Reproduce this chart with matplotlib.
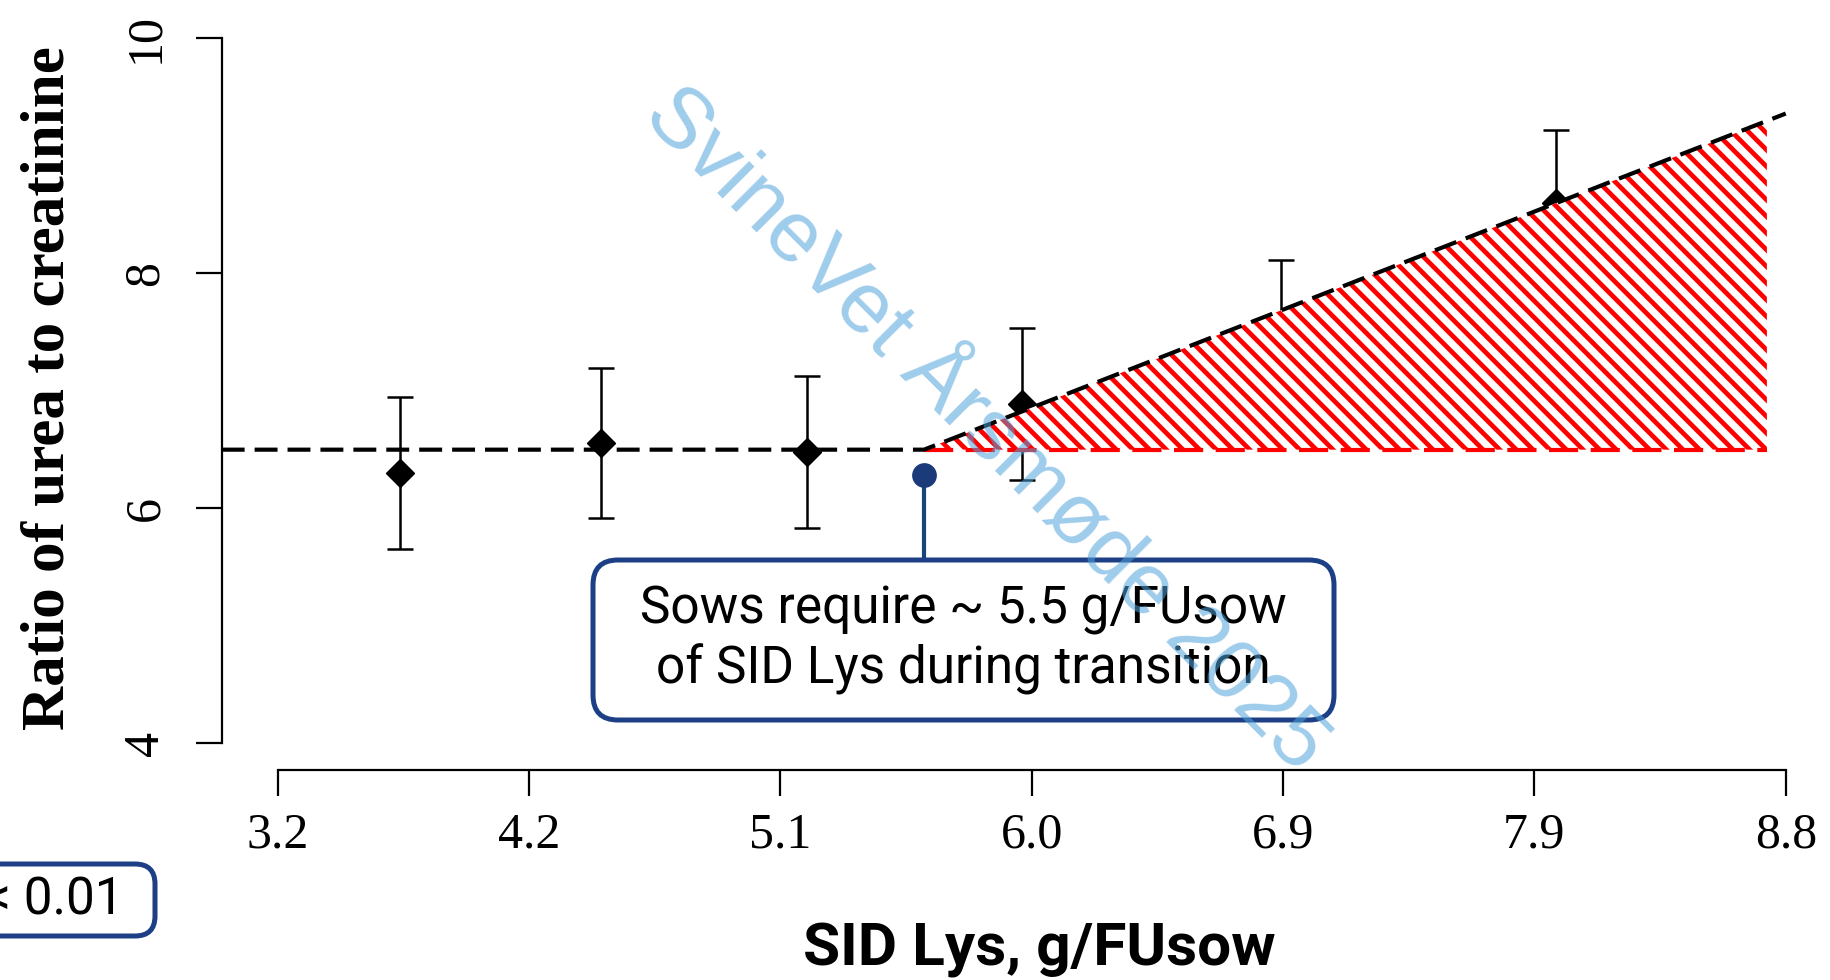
import matplotlib
matplotlib.use("Agg")
import matplotlib.pyplot as plt
import numpy as np
from matplotlib.patches import FancyBboxPatch, Polygon

# ---------------- data ----------------
lys_level = [3.655, 4.40, 5.167, 5.963, 6.925, 7.946]
ratio_mean = [6.30, 6.557, 6.48, 6.89, 7.485, 8.60]
ratio_se = [0.645, 0.64, 0.645, 0.648, 0.63, 0.62]

x_tick_labels = ["3.2", "4.2", "5.1", "6.0", "6.9", "7.9", "8.8"]
y_ticks = [4, 6, 8, 10]

breakpoint_x = 5.6       # broken-line breakpoint (g/FUsow)
plateau_y = 6.5          # plateau of the broken line
slope_after = 0.894      # slope after breakpoint
line_end_x = 8.8
hatch_end_x = 8.73
requirement_dot_y = 6.285

box_text = "Sows require ~ 5.5 g/FUsow\nof SID Lys during transition"
p_text = "< 0.01"
watermark = "SvineVet Årsmøde 2025"

# ---------------- figure ----------------
plt.rcParams["hatch.linewidth"] = 3.4
W, H = 1830, 980
fig = plt.figure(figsize=(W / 100, H / 100), dpi=100)
ax_l, ax_r, ax_t, ax_b = 221.7, 1800, 20, 770
ax = fig.add_axes([ax_l / W, 1 - ax_b / H, (ax_r - ax_l) / W, (ax_b - ax_t) / H])
ax.set_xlim(2.9917, 8.853)
ax.set_ylim(3.7736, 10.157)

for s in ["top", "right"]:
    ax.spines[s].set_visible(False)
ax.spines["left"].set_bounds(4, 10)
ax.spines["bottom"].set_bounds(3.2, 8.8)
for s in ["left", "bottom"]:
    ax.spines[s].set_linewidth(1.6)

xt = np.linspace(3.2, 8.8, len(x_tick_labels))
ax.set_xticks(xt)
ax.set_xticklabels(x_tick_labels, fontsize=36, family="Liberation Serif")
ax.set_yticks(y_ticks)
ax.set_yticklabels([str(v) for v in y_ticks], fontsize=36, family="Liberation Serif",
                   rotation=90, va="center")
ax.tick_params(axis="x", length=18.5, width=1.6, pad=12)
ax.tick_params(axis="y", length=19, width=1.6, pad=19)

ax.set_ylabel("Ratio of urea to creatinine", fontsize=44, fontweight="bold",
              family="Liberation Serif")
ax.yaxis.set_label_coords(-0.1005, 0.509)
ax.yaxis.label.set_va("baseline")
ax.set_xlabel("SID Lys, g/FUsow", fontsize=43.5, fontweight="bold", family="Roboto")
ax.xaxis.set_label_coords(0.5178, -0.26)
ax.xaxis.label.set_va("baseline")

# error bars with diamonds
ax.errorbar(lys_level, ratio_mean, yerr=ratio_se, fmt="D", color="black", ms=14,
            elinewidth=1.8, capsize=9.4, capthick=1.8, zorder=2)

# hatched area above plateau
hatch_top = plateau_y + slope_after * (hatch_end_x - breakpoint_x)
poly = Polygon([[breakpoint_x, plateau_y], [hatch_end_x, hatch_top], [hatch_end_x, plateau_y]],
               closed=True, facecolor="white", edgecolor="red", hatch="\\\\", lw=0, zorder=3)
ax.add_patch(poly)
ax.plot([breakpoint_x, hatch_end_x], [plateau_y, plateau_y], color="red", lw=3,
        dashes=(7, 3), zorder=3.5)

# broken line
x0 = ax.get_xlim()[0]
bl_x = [x0, breakpoint_x, line_end_x]
bl_y = [plateau_y, plateau_y, plateau_y + slope_after * (line_end_x - breakpoint_x)]
ax.plot(bl_x, bl_y, color="black", lw=3, dashes=(5.5, 2.4), zorder=4)

# requirement marker and connector
box_top_y = 5.56
ax.plot([breakpoint_x, breakpoint_x], [requirement_dot_y, box_top_y], color="#174679",
        lw=3, zorder=5, solid_capstyle="butt", clip_on=False)
ax.plot([breakpoint_x], [requirement_dot_y], "o", ms=16.8, color="#1a3a7a", zorder=6)

# annotation box
box = FancyBboxPatch((5.93, 2.60), 7.41, 1.60, boxstyle="round,pad=0,rounding_size=0.25",
                     transform=fig.dpi_scale_trans, fc="white", ec="#1d3f85", lw=3.6, zorder=2)
fig.add_artist(box)
fig.text(9.635 / 18.3, 3.40 / 9.8, box_text, ha="center", va="center", fontsize=37,
         family="Roboto", linespacing=1.2, zorder=3)

# partial p-value box
pbox = FancyBboxPatch((-0.4, 0.44), 1.95, 0.72, boxstyle="round,pad=0,rounding_size=0.2",
                      transform=fig.dpi_scale_trans, fc="white", ec="#1d3f85", lw=3.6, zorder=2)
fig.add_artist(pbox)
fig.text(1.24 / 18.3, 0.80 / 9.8, p_text, ha="right", va="center", fontsize=37,
         family="Roboto", zorder=3)

# watermark
fig.text(985 / W, 1 - 430 / H, watermark, rotation=-45, ha="center", va="center",
         rotation_mode="anchor", fontsize=62, color="#4fa3dc", alpha=0.55,
         family="Liberation Sans", zorder=10)

fig.savefig("out.png", dpi=100)
